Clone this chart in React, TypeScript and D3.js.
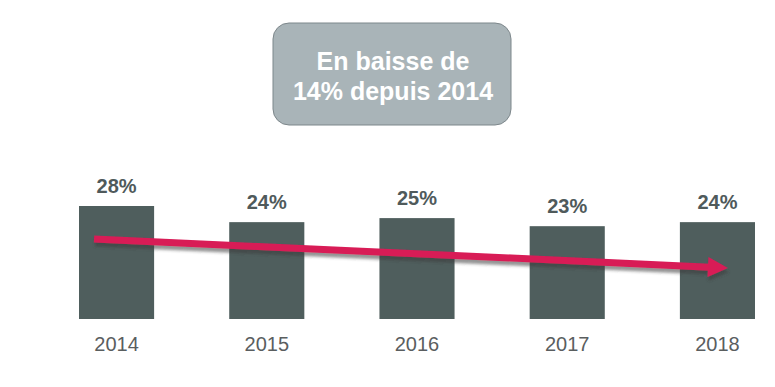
import React from "react";
import * as d3 from "d3";

const years = ["2014", "2015", "2016", "2017", "2018"];
const values = [28, 24, 25, 23, 24];
const valueLabels = ["28%", "24%", "25%", "23%", "24%"];
const calloutLines = ["En baisse de", "14% depuis 2014"];

const W = 775;
const H = 387;
const FONT = "'Liberation Sans', Arial, Helvetica, sans-serif";

export default function App() {
  const x = d3.scaleBand<string>().domain(years).range([79, 755]).paddingInner(0.5).paddingOuter(0);
  const y = d3.scaleLinear().domain([0, 28]).range([319, 206]);
  const bw = x.bandwidth();

  // Trend arrow from first to last category
  const x0 = (x(years[0]) as number) + bw * 0.2;
  const y0 = 239;
  const x1 = (x(years[years.length - 1]) as number) + bw * 0.64;
  const y1 = 268;
  const ang = Math.atan2(y1 - y0, x1 - x0);
  const headLen = 20;
  const headHalf = 10;
  const bx = x1 - headLen * Math.cos(ang);
  const by = y1 - headLen * Math.sin(ang);
  const px = -Math.sin(ang);
  const py = Math.cos(ang);
  const headPath = `M${x1},${y1} L${bx + px * headHalf},${by + py * headHalf} L${bx + px * 0.5},${by + py * 0.5} Z`;
  const headPoly = [
    [x1, y1],
    [bx + px * headHalf, by + py * headHalf],
    [bx - px * headHalf, by - py * headHalf],
  ];
  const shaftEndX = bx + 2 * Math.cos(ang);
  const shaftEndY = by + 2 * Math.sin(ang);

  return (
    <svg width={W} height={H} style={{ position: "absolute", left: 0, top: 0, background: "#fff" }}>
      <defs>
        <filter id="sh" x="-10%" y="-50%" width="120%" height="200%">
          <feDropShadow dx="1" dy="4" stdDeviation="1.6" floodColor="#3a3a3a" floodOpacity="0.55" />
        </filter>
      </defs>

      {/* callout */}
      <rect x={273} y={23} width={238} height={102} rx={16} ry={16} fill="#a9b4b8" stroke="#7d878b" strokeWidth={1} />
      {calloutLines.map((t, i) => (
        <text key={t} x={393} y={70 + i * 30} textAnchor="middle" fontFamily={FONT} fontWeight="bold" fontSize={25} fill="#ffffff">
          {t}
        </text>
      ))}

      {/* bars */}
      {years.map((yr, i) => (
        <g key={yr}>
          <rect x={x(yr)} y={y(values[i])} width={bw} height={y(0) - y(values[i])} fill="#4f5e5d" />
          <text x={(x(yr) as number) + bw / 2} y={y(values[i]) - 13} textAnchor="middle" fontFamily={FONT} fontWeight="bold" fontSize={20} fill="#4f5a5b">
            {valueLabels[i]}
          </text>
          <text x={(x(yr) as number) + bw / 2} y={351} textAnchor="middle" fontFamily={FONT} fontSize={20} fill="#5a5e5f">
            {yr}
          </text>
        </g>
      ))}

      {/* arrow */}
      <g filter="url(#sh)">
        <line x1={x0} y1={y0} x2={shaftEndX} y2={shaftEndY} stroke="#d81b57" strokeWidth={7} />
        <polygon points={headPoly.map((p) => p.join(",")).join(" ")} fill="#d81b57" />
      </g>
    </svg>
  );
}
